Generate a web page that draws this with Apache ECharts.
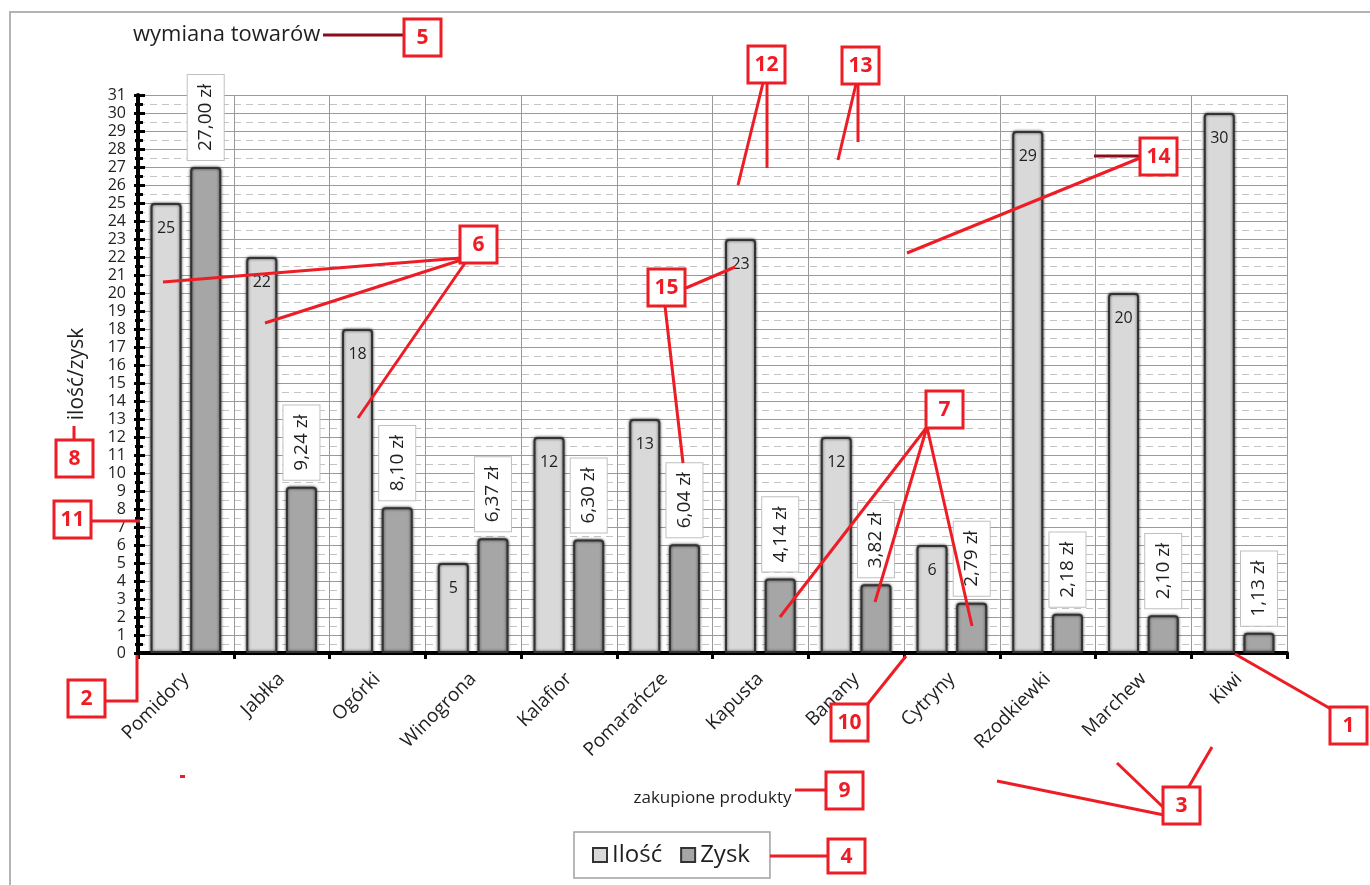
<!DOCTYPE html>
<html>
<head>
<meta charset="utf-8">
<script src="https://cdn.jsdelivr.net/npm/echarts@6/dist/echarts.min.js"></script>
<style>
html,body{margin:0;padding:0;background:#fff;}
#c{width:1370px;height:885px;}
</style>
</head>
<body>
<div id="c"></div>
<script>
const categories = ['Pomidory','Jabłka','Ogórki','Winogrona','Kalafior','Pomarańcze','Kapusta','Banany','Cytryny','Rzodkiewki','Marchew','Kiwi'];
const ilosc = [25, 22, 18, 5, 12, 13, 23, 12, 6, 29, 20, 30];
const zysk = [27.00, 9.24, 8.10, 6.37, 6.30, 6.04, 4.14, 3.82, 2.79, 2.18, 2.10, 1.13];
const yMin = 0, yMax = 31, yStep = 1;
const seriesNames = ['Ilość', 'Zysk'];
const titleText = 'wymiana towarów';
const xName = 'zakupione produkty';
const yName = 'ilość/zysk';

// callout annotations (numbers in red boxes)
const calloutBoxes = [
  ['1', 1330, 707], ['2', 68, 680], ['3', 1163, 787], ['4', 828, 839], ['5', 404, 19],
  ['6', 460, 226], ['7', 926, 391], ['8', 56, 440], ['9', 826, 772], ['10', 831, 704],
  ['11', 54, 501], ['12', 748, 46], ['13', 842, 47], ['14', 1140, 138], ['15', 648, 269]
];
const calloutLines = [
  [[1235,654],[1331,709]],
  [[105,701],[137,701],[137,655]],
  [[997,781],[1164,815]],
  [[1117,763],[1164,808]],
  [[1212,747],[1188,788]],
  [[770,856],[829,856]],
  [[163,282],[461,258]],
  [[265,323],[461,260]],
  [[358,418],[465,263]],
  [[927,427],[780,617]],
  [[927,427],[875,602]],
  [[927,427],[972,626]],
  [[74,440],[74,426]],
  [[795,790],[827,790]],
  [[866,706],[906,656]],
  [[92,521],[140,521]],
  [[767,83],[767,168]],
  [[763,83],[738,185]],
  [[858,84],[858,142]],
  [[856,84],[838,160]],
  [[1140,158],[907,253]],
  [[686,288],[735,267]],
  [[665,306],[683,463]]
];
const darkLines = [
  [[323,35],[405,35]],
  [[1140,156],[1094,156]]
];

const RED = '#ee1c25';
const FONT = 'Open Sans';
const TXT = '#1f1f1f';

const graphics = [];
graphics.push({type:'rect', silent:true, z:0, shape:{x:10,y:12,width:1400,height:900}, style:{fill:'none', stroke:'#b4b4b4', lineWidth:2}});
calloutLines.forEach(pts => graphics.push({type:'polyline', silent:true, z:100, shape:{points:pts}, style:{stroke:RED, lineWidth:3, fill:'none'}}));
darkLines.forEach(pts => graphics.push({type:'polyline', silent:true, z:100, shape:{points:pts}, style:{stroke:'#8b0d1a', lineWidth:3, fill:'none'}}));
graphics.push({type:'rect', silent:true, z:100, shape:{x:180,y:775,width:5,height:3}, style:{fill:RED}});
calloutBoxes.forEach(b => {
  const h = b[0] === '4' ? 34 : 37;
  graphics.push({type:'rect', silent:true, z:101, shape:{x:b[1], y:b[2], width:37, height:h}, style:{fill:'#fff', stroke:RED, lineWidth:3}});
  graphics.push({type:'text', silent:true, z:102, x:b[1]+18.5, y:b[2]+h/2+1, style:{text:b[0], fill:RED, font:'bold 21px "' + FONT + '"', textAlign:'center', textVerticalAlign:'middle'}});
});

const barBase = {
  borderColor:'#333', borderWidth:2, borderRadius:[3,3,0,0],
  shadowColor:'rgba(0,0,0,0.7)', shadowBlur:3
};

const chart = echarts.init(document.getElementById('c'), null, {renderer:'canvas'});
chart.setOption({
  animation:false,
  backgroundColor:'#fff',
  title:{text:titleText, left:128, top:19, textStyle:{fontFamily:FONT, fontSize:22, fontWeight:'normal', color:TXT}},
  legend:{
    data:seriesNames, left:574, top:832, selectedMode:false,
    borderColor:'#a0a0a0', borderWidth:1.5, padding:[11, 20, 11, 18],
    itemWidth:14, itemHeight:14, itemGap:18, icon:'rect',
    textStyle:{fontFamily:FONT, fontSize:24, color:TXT, padding:[0,0,0,0]}
  },
  grid:{left:138, right:83, top:95, bottom:232, outerBoundsMode:'none'},
  xAxis:[{
    type:'category', data:categories,
    name:xName, nameLocation:'middle', nameGap:137,
    nameTextStyle:{fontFamily:FONT, fontSize:17, color:TXT},
    axisLine:{lineStyle:{color:'#000', width:4}},
    axisTick:{show:true, interval:0, length:6, lineStyle:{color:'#000', width:3}},
    axisLabel:{interval:0, rotate:45, margin:23, fontFamily:FONT, fontSize:19, color:TXT},
    splitLine:{show:true, interval:0, lineStyle:{color:'#9a9a9a', width:1}}
  }],
  yAxis:[{
    type:'value', position:'left', min:yMin, max:yMax, interval:yStep,
    name:yName, nameLocation:'middle', nameGap:50, nameRotate:90,
    nameTextStyle:{fontFamily:FONT, fontSize:21, color:TXT},
    axisLine:{show:true, lineStyle:{color:'#000', width:4}},
    axisTick:{show:true, length:4, lineStyle:{color:'#000', width:3}},
    minorTick:{show:true, splitNumber:2, length:3, lineStyle:{color:'#000', width:3}},
    axisLabel:{margin:12, fontFamily:FONT, fontSize:16, color:TXT},
    splitLine:{show:true, lineStyle:{color:'#9a9a9a', width:1}},
    minorSplitLine:{show:true, lineStyle:{color:'#c4c4c4', width:1, type:[7,5]}}
  },{
    type:'value', position:'left', min:yMin, max:yMax, interval:yStep, offset:0,
    axisLine:{show:false},
    axisTick:{show:true, inside:true, length:7, lineStyle:{color:'#000', width:3}},
    minorTick:{show:true, splitNumber:2, length:5, lineStyle:{color:'#000', width:3}},
    axisLabel:{show:false}, splitLine:{show:false}
  }],
  series:[{
    name:seriesNames[0], type:'bar', data:ilosc, barWidth:31, barGap:'28%',
    itemStyle:Object.assign({color:'#d9d9d9'}, barBase),
    label:{show:true, position:'insideTop', distance:17, fontFamily:FONT, fontSize:16, color:TXT}
  },{
    name:seriesNames[1], type:'bar', data:zysk, barWidth:31, barGap:'28%',
    itemStyle:Object.assign({color:'#a6a6a6'}, barBase),
    label:{
      show:true, position:'top', distance:7, rotate:90, align:'left', verticalAlign:'middle',
      fontFamily:FONT, fontSize:19, color:TXT, lineHeight:22,
      backgroundColor:'#fff', borderColor:'#c0c0c0', borderWidth:1, padding:[7,9,7,9],
      formatter: p => p.value.toFixed(2).replace('.', ',') + ' zł'
    }
  }],
  graphic:graphics
});
</script>
</body>
</html>
